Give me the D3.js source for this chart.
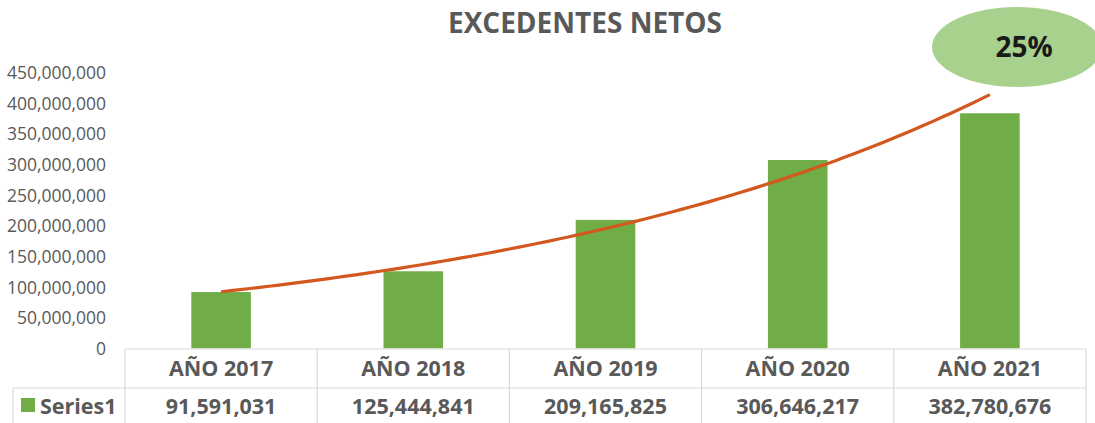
<!DOCTYPE html>
<html>
<head>
<meta charset="utf-8">
<script src="https://cdn.jsdelivr.net/npm/d3@7"></script>
<style>
  html, body { margin: 0; padding: 0; background: #ffffff; }
  svg { display: block; }
  text { font-family: "Open Sans", sans-serif; }
</style>
</head>
<body>
<svg id="chart" width="1095" height="423"></svg>
<script>
// ---- data ----
const title = "EXCEDENTES NETOS";
const categories = ["AÑO 2017", "AÑO 2018", "AÑO 2019", "AÑO 2020", "AÑO 2021"];
const seriesName = "Series1";
const values = [91591031, 125444841, 209165825, 306646217, 382780676];
const yTicks = [0, 50000000, 100000000, 150000000, 200000000, 250000000, 300000000, 350000000, 400000000, 450000000];
const calloutText = "25%";

// ---- layout ----
const svg = d3.select("#chart");
const plotLeft = 125, plotRight = 1086;
const yTop = 72, yBottom = 348.3;
const textGrey = "#595959";
const gridGrey = "#d9d9d9";

const x = d3.scaleBand().domain(categories).range([plotLeft, plotRight]).paddingInner(0.69).paddingOuter(0.345);
const y = d3.scaleLinear().domain([0, 450000000]).range([yBottom, yTop]);
const fmt = d3.format(",");

// title
svg.append("text")
  .attr("x", 585).attr("y", 33)
  .attr("text-anchor", "middle")
  .attr("font-size", 28).attr("font-weight", 700)
  .attr("fill", textGrey)
  .text(title);

// y axis labels (no line)
const yAxis = d3.axisLeft(y).tickValues(yTicks).tickFormat(d => d === 0 ? "0" : fmt(d)).tickSize(0).tickPadding(0);
const gy = svg.append("g").attr("transform", "translate(106,0)").call(yAxis);
gy.select(".domain").remove();
gy.selectAll("text")
  .attr("font-family", "Open Sans, sans-serif")
  .attr("font-size", 17.5)
  .attr("fill", textGrey)
  .attr("dy", "0.36em");

// bars
svg.append("g").selectAll("rect")
  .data(values)
  .join("rect")
  .attr("x", (d, i) => x(categories[i]))
  .attr("y", d => y(d))
  .attr("width", x.bandwidth())
  .attr("height", d => yBottom - y(d))
  .attr("fill", "#70ad47");

// exponential trendline (least squares on log values)
const n = values.length;
const xs = d3.range(n);
const ly = values.map(v => Math.log(v));
const mx = d3.mean(xs), my = d3.mean(ly);
const slope = d3.sum(xs, (xi, i) => (xi - mx) * (ly[i] - my)) / d3.sum(xs, xi => (xi - mx) ** 2);
const icpt = my - slope * mx;
const xi = d3.scaleLinear().domain([0, n - 1]).range([x(categories[0]) + x.bandwidth() / 2, x(categories[n - 1]) + x.bandwidth() / 2]);
const trendPts = d3.range(0, n - 1 + 1e-9, 0.05).map(t => [xi(t), y(Math.exp(icpt + slope * t))]);
svg.append("path")
  .datum(trendPts)
  .attr("d", d3.line())
  .attr("fill", "none")
  .attr("stroke", "#d2581e")
  .attr("stroke-width", 3.2)
  .attr("stroke-linecap", "butt");

// data table
const rowTop = 349, rowMid = 388, rowBot = 430;
const tbl = svg.append("g").attr("stroke", gridGrey).attr("stroke-width", 1.2).attr("fill", "none");
tbl.append("line").attr("x1", plotLeft).attr("x2", plotRight).attr("y1", rowTop).attr("y2", rowTop);
tbl.append("line").attr("x1", 13).attr("x2", plotRight).attr("y1", rowMid).attr("y2", rowMid);
tbl.append("line").attr("x1", 13).attr("x2", 13).attr("y1", rowMid).attr("y2", rowBot);
const step = x.step();
d3.range(n + 1).forEach(k => {
  const lx = plotLeft + k * step;
  tbl.append("line").attr("x1", lx).attr("x2", lx).attr("y1", rowTop).attr("y2", rowBot);
});

svg.append("g").selectAll("text")
  .data(categories)
  .join("text")
  .attr("x", d => x(d) + x.bandwidth() / 2)
  .attr("y", 376)
  .attr("text-anchor", "middle")
  .attr("font-size", 21.5).attr("font-weight", 700)
  .attr("fill", textGrey)
  .text(d => d);

svg.append("g").selectAll("text")
  .data(values)
  .join("text")
  .attr("x", (d, i) => x(categories[i]) + x.bandwidth() / 2)
  .attr("y", 414)
  .attr("text-anchor", "middle")
  .attr("font-size", 21.5).attr("font-weight", 700)
  .attr("fill", textGrey)
  .text(d => fmt(d));

// legend key in table
svg.append("rect").attr("x", 21).attr("y", 398).attr("width", 14).attr("height", 14).attr("fill", "#70ad47");
svg.append("text")
  .attr("x", 40).attr("y", 414)
  .attr("font-size", 21.5).attr("font-weight", 700)
  .attr("fill", textGrey)
  .text(seriesName);

// callout ellipse
svg.append("ellipse")
  .attr("cx", 1017).attr("cy", 47)
  .attr("rx", 85).attr("ry", 40)
  .attr("fill", "#a9d18e");
svg.append("text")
  .attr("x", 1024).attr("y", 57)
  .attr("text-anchor", "middle")
  .attr("font-size", 28).attr("font-weight", 700)
  .attr("fill", "#1a1a1a")
  .text(calloutText);
</script>
</body>
</html>
